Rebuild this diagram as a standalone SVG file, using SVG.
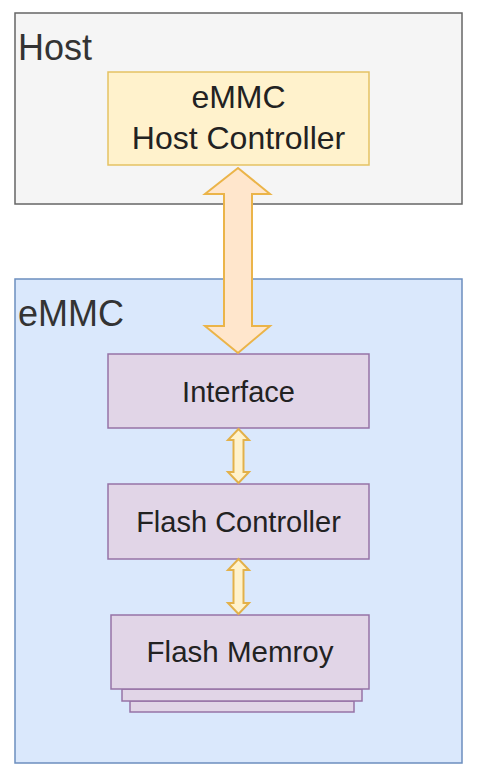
<svg xmlns="http://www.w3.org/2000/svg" width="485" height="773" viewBox="0 0 485 773">
  <style>
    .lbl { font-family: "Liberation Sans", Arial, sans-serif; fill: #333333; }
    .node { font-family: "Liberation Sans", Arial, sans-serif; fill: #222222; text-anchor: middle; }
    .purple { fill: #e1d5e7; stroke: #9673a6; stroke-width: 1.5; }
  </style>
  <rect width="485" height="773" fill="#ffffff"/>
  <g id="host">
    <rect x="15" y="13" width="447" height="191" fill="#f5f5f5" stroke="#666666" stroke-width="1.5"/>
    <text class="lbl" x="18" y="60" font-size="36">Host</text>
  </g>
  <g id="emmc">
    <rect x="15" y="279" width="447" height="484" fill="#dae8fc" stroke="#6c8ebf" stroke-width="1.5"/>
    <text class="lbl" x="18" y="326" font-size="36">eMMC</text>
  </g>
  <g id="host-controller">
    <rect x="108" y="72" width="261" height="93" fill="#fff2cc" stroke="#e5c263" stroke-width="1.5"/>
    <text class="node" x="238.5" y="108" font-size="32">eMMC</text>
    <text class="node" x="238.5" y="149" font-size="32">Host Controller</text>
  </g>
  <g id="interface">
    <rect class="purple" x="108" y="354" width="261" height="74"/>
    <text class="node" x="238.5" y="402" font-size="29">Interface</text>
  </g>
  <g id="flash-controller">
    <rect class="purple" x="108" y="484" width="261" height="75"/>
    <text class="node" x="238.5" y="532" font-size="29">Flash Controller</text>
  </g>
  <g id="flash-memory">
    <rect class="purple" x="130" y="701" width="224" height="11"/>
    <rect class="purple" x="122" y="689" width="240" height="12"/>
    <rect class="purple" x="111" y="615" width="258" height="74"/>
    <text class="node" x="240" y="662" font-size="29.5">Flash Memroy</text>
  </g>
  <g id="connectors" stroke-linejoin="miter">
    <path d="M238,168 L270,194 L252,194 L252,326 L270,326 L238,353 L205,326 L224,326 L224,194 L205,194 Z" fill="#ffe6cc" stroke="#ebb449" stroke-width="2"/>
    <path d="M238.5,429 L249,440 L243.5,440 L243.5,472 L249,472 L238.5,483 L228,472 L233.5,472 L233.5,440 L228,440 Z" fill="#fff2cc" stroke="#e3b14a" stroke-width="2"/>
    <path d="M238.5,559 L249,570 L243.5,570 L243.5,603 L249,603 L238.5,614 L228,603 L233.5,603 L233.5,570 L228,570 Z" fill="#fff2cc" stroke="#e3b14a" stroke-width="2"/>
  </g>
</svg>
